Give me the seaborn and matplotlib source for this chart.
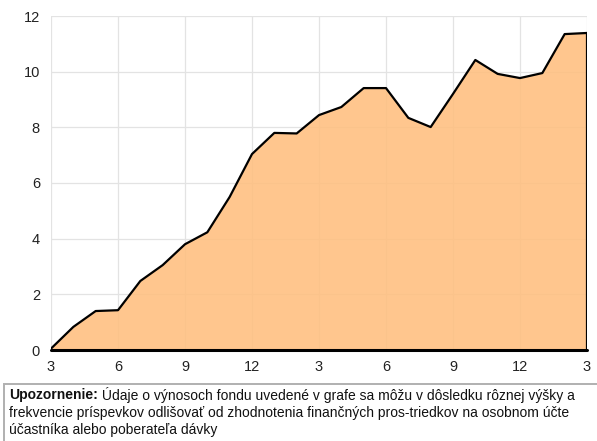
import matplotlib
matplotlib.use('Agg')
import matplotlib.pyplot as plt
import seaborn as sns
from matplotlib.patches import Rectangle

# monthly fund return (%), 25 months
months = list(range(25))
values = [0.05, 0.83, 1.40, 1.43, 2.48, 3.05, 3.80, 4.23, 5.50, 7.04,
          7.80, 7.78, 8.44, 8.73, 9.41, 9.41, 8.34, 8.01, 9.20, 10.42,
          9.92, 9.77, 9.95, 11.35, 11.39]
tick_pos = [0, 3, 6, 9, 12, 15, 18, 21, 24]
tick_labels = ['3', '6', '9', '12', '3', '6', '9', '12', '3']
y_ticks = [0, 2, 4, 6, 8, 10, 12]

note_bold = 'Upozornenie:'
note_lines = [' Údaje o výnosoch fondu uvedené v grafe sa môžu v dôsledku rôznej výšky a',
              'frekvencie príspevkov odlišovať od zhodnotenia finančných pros-triedkov na osobnom účte',
              'účastníka alebo poberateľa dávky']

sns.set_style('whitegrid')
plt.rcParams['font.family'] = ['Liberation Sans', 'DejaVu Sans']

W, H = 597, 441
fig = plt.figure(figsize=(W / 100, H / 100), dpi=100)
ax = fig.add_axes([51/W, 1 - 350/H, (587 - 51)/W, (350 - 16)/H])

ax.fill_between(months, 0, values, facecolor='#ffbf7f', alpha=0.88,
                edgecolor='none', zorder=2)
sns.lineplot(x=months, y=values, color='black', linewidth=1.6, ax=ax, zorder=3)
ax.plot([24, 24], [0, values[-1]], color='black', linewidth=1.6, zorder=3)
ax.axhline(0, color='black', linewidth=2.2, zorder=4, clip_on=False)

ax.set_xlim(0, 24)
ax.set_ylim(0, 12)
ax.set_xticks(tick_pos)
ax.set_xticklabels(tick_labels)
ax.set_yticks(y_ticks)
ax.grid(True, color='#e3e3e3', linewidth=0.9)
ax.set_axisbelow(True)
for s in ax.spines.values():
    s.set_visible(False)
ax.tick_params(axis='x', length=4, color='#cccccc', pad=3, labelsize=10.5, labelcolor='#222222')
ax.tick_params(axis='y', length=0, pad=8, labelsize=10.5, labelcolor='#222222')
ax.set_xlabel('')
ax.set_ylabel('')

# footer note box
fig.patches.append(Rectangle((4/W, -0.01), 1.0, (441 - 384)/H + 0.01, transform=fig.transFigure,
                             facecolor='white', edgecolor='#b0b0b0', linewidth=1.4))
fs = 10
tb = fig.text(9/W, 1 - 395/H, note_bold, fontsize=fs, fontweight='bold',
              va='center', ha='left', color='#111111')
fig.canvas.draw()
bb = tb.get_window_extent()
fig.text(bb.x1 / W, 1 - 395/H, note_lines[0], fontsize=fs,
         va='center', ha='left', color='#111111')
fig.text(9/W, 1 - 413/H, note_lines[1], fontsize=fs,
         va='center', ha='left', color='#111111')
fig.text(9/W, 1 - 430/H, note_lines[2], fontsize=fs,
         va='center', ha='left', color='#111111')

fig.savefig('out.png', dpi=100)
